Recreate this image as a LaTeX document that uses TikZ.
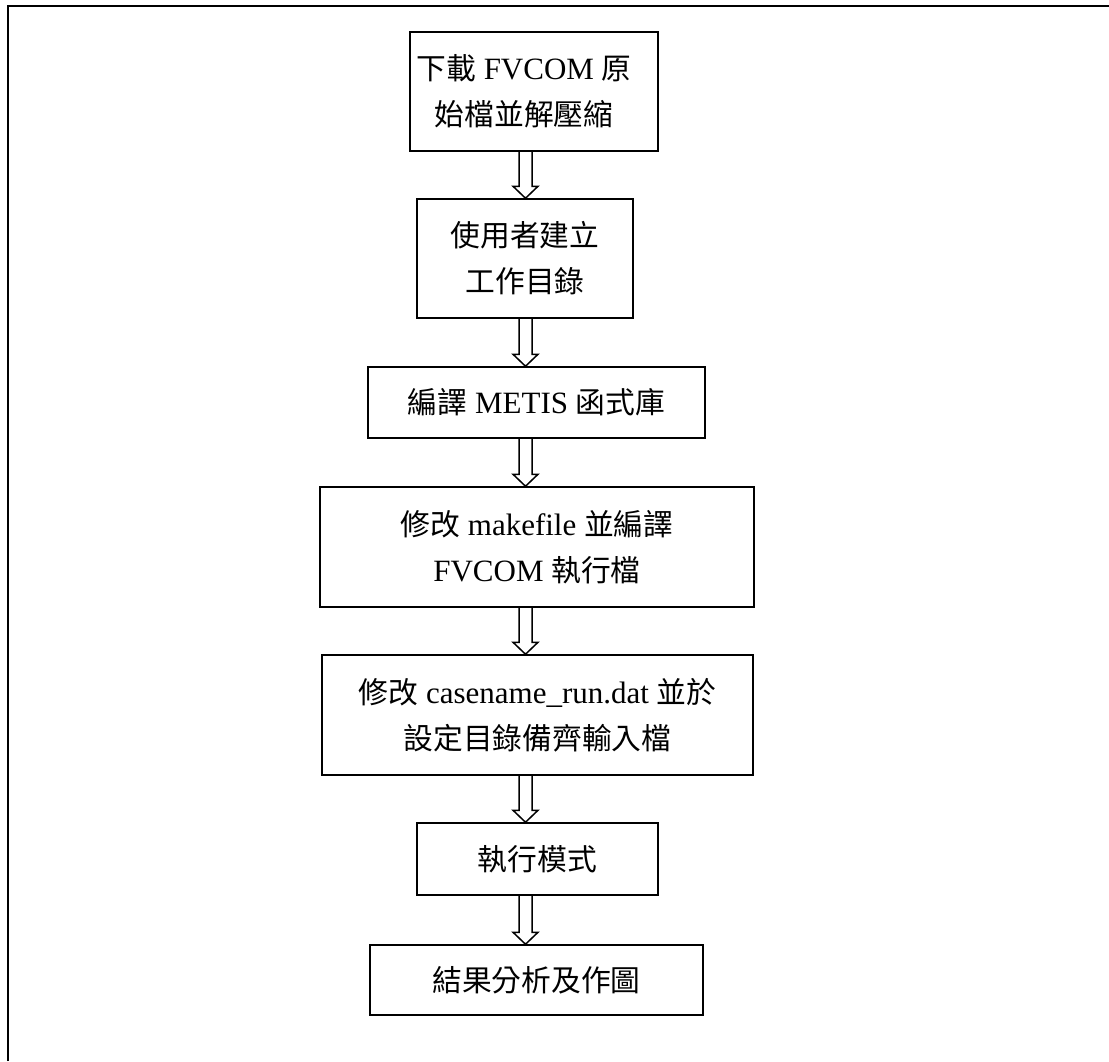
\documentclass[tikz,border=0pt]{standalone}
\usepackage{fontspec}
\setmainfont{Liberation Serif}
\newfontfamily\cjk[Scale=0.96]{Noto Sans CJK TC}
\newcommand\zh[1]{{\cjk #1}}
\usetikzlibrary{calc}
\tikzset{
  box/.style={draw, line width=1.5pt, rectangle, inner sep=0pt, align=center,
    font={\fontsize{31}{46}\selectfont}},
  arr/.style={draw, line width=1.5pt, line join=miter},
  frame/.style={line width=2.2pt}
}
\newcommand\harrow[2]{%
  \draw[arr] let \p1=(#1.south -| ax), \p2=(#2.north -| ax) in
    (\x1-6.5pt,\y1) -- (\x1-6.5pt,\y2+12pt) -- (\x1-12.5pt,\y2+12pt) -- (\x2,\y2)
    -- (\x1+12.5pt,\y2+12pt) -- (\x1+6.5pt,\y2+12pt) -- (\x1+6.5pt,\y1);}
\begin{document}
\begin{tikzpicture}[x=1pt,y=-1pt]
\useasboundingbox (0,0) rectangle (1109,1061);
\coordinate (ax) at (525.5,0);
\coordinate (fbl) at (8,1061);
\coordinate (ftl) at (8,6);
\coordinate (ftr) at (1109,6);
\draw[frame] (fbl) -- (ftl) -- (ftr);

\node[box, minimum width=248, minimum height=119] (b1) at (534,91.5)
  {\zh{下載} FVCOM \zh{原}\hspace*{20pt}\\\zh{始檔並解壓縮}\hspace*{20pt}};
\node[box, minimum width=216, minimum height=119] (b2) at (525,258.5)
  {\zh{使用者建立}\\\zh{工作目錄}};
\node[box, minimum width=337, minimum height=71] (b3) at (536.5,402.5)
  {\zh{編譯} METIS \zh{函式庫}};
\node[box, minimum width=434, minimum height=120] (b4) at (537,547)
  {\zh{修改} makefile \zh{並編譯}\\FVCOM \zh{執行檔}};
\node[box, minimum width=431, minimum height=120] (b5) at (537.5,715)
  {\zh{修改} casename\_run.dat \zh{並於}\\\zh{設定目錄備齊輸入檔}};
\node[box, minimum width=241, minimum height=72] (b6) at (537.5,859)
  {\zh{執行模式}};
\node[box, minimum width=333, minimum height=70] (b7) at (536.5,980)
  {\zh{結果分析及作圖}};

\harrow{b1}{b2}
\harrow{b2}{b3}
\harrow{b3}{b4}
\harrow{b4}{b5}
\harrow{b5}{b6}
\harrow{b6}{b7}
\end{tikzpicture}
\end{document}
